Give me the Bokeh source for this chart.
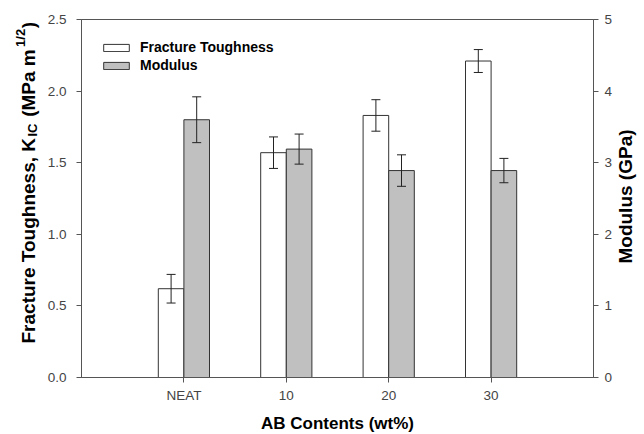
import numpy as np
import pandas as pd
from bokeh.plotting import figure
from bokeh.models import (ColumnDataSource, Range1d, LinearAxis, FixedTicker,
                          NumeralTickFormatter, Whisker, TeeHead, Label)
from bokeh.embed import file_html
from bokeh.resources import INLINE

# ---- data ----
categories = ["NEAT", "10", "20", "30"]
toughness = [0.62, 1.57, 1.83, 2.21]
toughness_err = [0.10, 0.11, 0.11, 0.08]
modulus = [3.60, 3.19, 2.89, 2.89]
modulus_err = [0.32, 0.21, 0.22, 0.17]
left_ticks = [0.0, 0.5, 1.0, 1.5, 2.0, 2.5]
right_ticks = [0, 1, 2, 3, 4, 5]

FONT = "Liberation Sans"
AXC = "#555555"
BARLINE = "#333333"

pos = np.arange(1, len(categories) + 1)
bar_w = 0.25

ft_df = pd.DataFrame(dict(x=pos - bar_w / 2, top=toughness,
                          upper=np.add(toughness, toughness_err),
                          lower=np.subtract(toughness, toughness_err)))
md_df = pd.DataFrame(dict(x=pos + bar_w / 2, top=modulus,
                          upper=np.add(modulus, modulus_err),
                          lower=np.subtract(modulus, modulus_err)))
ft_src = ColumnDataSource(ft_df)
md_src = ColumnDataSource(md_df)

W, H = 644, 434
FL, FT = 81, 19          # frame left / top inside the canvas
FW, FH = 512, 358        # frame size
p = figure(width=W, height=H, output_backend="svg", toolbar_location=None,
           x_range=Range1d(0, len(categories) + 1), y_range=Range1d(left_ticks[0], left_ticks[-1]),
           min_border_left=FL, min_border_right=W - FL - FW, min_border_top=FT,
           min_border_bottom=H - FT - FH,
           background_fill_color="white", border_fill_color="white")
p.extra_y_ranges = {"mod": Range1d(right_ticks[0], right_ticks[-1])}
p.grid.visible = False
p.outline_line_color = AXC
p.outline_line_width = 1

p.vbar(x="x", top="top", width=bar_w, bottom=0, source=ft_src,
       fill_color="white", line_color=BARLINE, line_width=1,
       legend_label="Fracture Toughness")
p.vbar(x="x", top="top", width=bar_w, bottom=0, source=md_src,
       fill_color="#c0c0c0", line_color=BARLINE, line_width=1,
       y_range_name="mod", legend_label="Modulus")

for src, rng in ((ft_src, "default"), (md_src, "mod")):
    w = Whisker(base="x", upper="upper", lower="lower", source=src, level="overlay",
                line_color="#222222", line_width=1,
                upper_head=TeeHead(size=9, line_color="#222222", line_width=1),
                lower_head=TeeHead(size=9, line_color="#222222", line_width=1))
    if rng != "default":
        w.y_range_name = rng
    p.add_layout(w)

# axes
xa = p.xaxis[0]
xa.ticker = FixedTicker(ticks=[int(v) for v in pos])
xa.major_label_overrides = {int(v): c for v, c in zip(pos, categories)}
ya = p.yaxis[0]
ya.ticker = FixedTicker(ticks=left_ticks)
ya.formatter = NumeralTickFormatter(format="0.0")
ra = LinearAxis(y_range_name="mod", ticker=FixedTicker(ticks=right_ticks))
p.add_layout(ra, "right")

for ax, so in ((xa, 5), (ya, 10), (ra, 6)):
    ax.axis_line_color = AXC
    ax.major_tick_line_color = AXC
    ax.major_tick_out = 5
    ax.major_tick_in = 0
    ax.minor_tick_out = 0
    ax.minor_tick_in = 0
    ax.major_label_standoff = so
    ax.major_label_text_font = FONT
    ax.major_label_text_font_size = "13.5px"
    ax.major_label_text_color = "#444444"

# legend
lg = p.legend[0]
lg.location = "top_left"
lg.margin = 19
lg.padding = 0
lg.spacing = 0
lg.label_height = 18
lg.glyph_height = 9
lg.glyph_width = 32
lg.label_standoff = 8
lg.border_line_alpha = 0
lg.background_fill_alpha = 0
lg.label_text_font = FONT
lg.label_text_font_size = "14px"
lg.label_text_font_style = "bold"
lg.label_text_color = "black"

# ---- axis titles: labels in canvas pixels, kept in side panels ----
BW = {' ': 278, '\u00a0': 278, '(': 333, ')': 333, ',': 278, '/': 278, '1': 556, '2': 556,
      'F': 611, 'r': 389, 'a': 556, 'c': 556, 't': 333, 'u': 611, 'e': 556,
      'T': 611, 'o': 611, 'g': 611, 'h': 611, 'n': 611, 's': 556, 'K': 722,
      'I': 278, 'C': 722, 'M': 833, 'P': 667, 'm': 889}


def tw(s, size):
    return sum(BW.get(ch, 600) for ch in s) * size / 1000.0


def lab(txt, x, y, size, side, angle=0.0, align="left"):
    p.add_layout(Label(x=x, y=y, x_units="canvas", y_units="canvas", text=txt,
                       angle=angle, text_align=align, text_baseline="alphabetic",
                       text_font=FONT, text_font_size=f"{size}px", text_font_style="bold",
                       text_color="black"), side)


NB = "\u00a0"
main_a = "Fracture Toughness, K"
sub = "IC"
main_b = "(MPa m"
sup = "1/2"
main_c = ")"
gap1 = NB * 4
gap2 = NB * 4
left_title = main_a + gap1 + main_b + gap2 + main_c
Y0, BASE = 343.0, 28.0
lab(left_title, BASE, Y0, 19, "left", angle=np.pi / 2)
lab(sub, BASE + 4, Y0 - tw(main_a, 19), 13, "left", angle=np.pi / 2)
lab(sup, BASE - 8, Y0 - tw(main_a + gap1 + main_b, 19) - 1, 13, "above", angle=np.pi / 2)

lab("Modulus (GPa)", 625, 196, 19, "right", angle=np.pi / 2, align="center")
lab("AB Contents (wt%)", 337, 423, 17, "below", align="center")

open("out.html", "w").write(file_html(p, INLINE))
